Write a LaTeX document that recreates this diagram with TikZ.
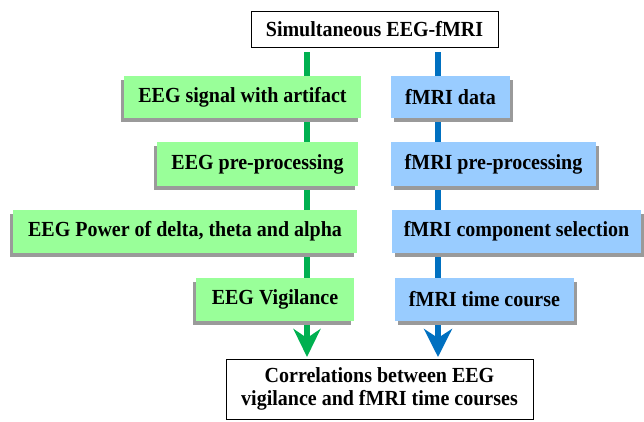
\documentclass[tikz,border=0pt]{standalone}
\usepackage{fontspec}
\setmainfont[FakeStretch=0.93]{Liberation Serif}
\usetikzlibrary{arrows.meta,shadows}
\definecolor{boxgreen}{HTML}{99FF99}
\definecolor{boxblue}{HTML}{99CCFF}
\definecolor{linegreen}{HTML}{00B050}
\definecolor{lineblue}{HTML}{0070C0}
\definecolor{shadowgray}{HTML}{9A9A9A}
\tikzset{
  basebox/.style={inner sep=0pt, align=center,
    font=\fontsize{21.5}{23}\bfseries\selectfont},
  whitebox/.style={basebox, draw=black, line width=0.9pt, fill=white},
  greenbox/.style={basebox, fill=boxgreen,
    general shadow={fill=shadowgray, shadow xshift=-3pt, shadow yshift=-4pt}},
  bluebox/.style={basebox, fill=boxblue,
    general shadow={fill=shadowgray, shadow xshift=3pt, shadow yshift=-4pt}},
  gline/.style={draw=linegreen, line width=5.5pt,
    -{Stealth[length=28pt, width=27pt, inset=9pt]}},
  bline/.style={draw=lineblue, line width=5.5pt,
    -{Stealth[length=28pt, width=28pt, inset=9pt]}},
}
\begin{document}
\begin{tikzpicture}[x=1pt,y=-1pt]
\useasboundingbox (0,0) rectangle (644,421);
% connectors (behind boxes)
\coordinate (gstart) at (307,52);
\coordinate (gend) at (307,357);
\coordinate (bstart) at (438,52);
\coordinate (bend) at (438,357);
\draw[gline] (gstart) -- (gend);
\draw[bline] (bstart) -- (bend);
% boxes
\node[whitebox, minimum width=247pt, minimum height=36pt] (top) at (374.5,29) {Simultaneous EEG-fMRI};
\node[greenbox, minimum width=237pt, minimum height=42pt] (g1) at (242.5,97) {EEG signal with artifact};
\node[bluebox, minimum width=119pt, minimum height=42pt] (b1) at (450.5,97) {fMRI data};
\node[greenbox, minimum width=201pt, minimum height=44pt] (g2) at (257.5,164) {EEG pre-processing};
\node[bluebox, minimum width=205pt, minimum height=44pt] (b2) at (493.5,164) {fMRI pre-processing};
\node[greenbox, minimum width=344pt, minimum height=43pt] (g3) at (185,231.5) {EEG Power of delta, theta and alpha};
\node[bluebox, minimum width=249pt, minimum height=43pt] (b3) at (516.5,231.5) {fMRI component selection};
\node[greenbox, minimum width=158pt, minimum height=43pt] (g4) at (275,299.5) {EEG Vigilance};
\node[bluebox, minimum width=179pt, minimum height=43pt] (b4) at (484.5,299.5) {fMRI time course};
\node[whitebox, minimum width=307pt, minimum height=60pt] (bot) at (379.5,389) {Correlations between EEG\\vigilance and fMRI time courses};
\end{tikzpicture}
\end{document}
